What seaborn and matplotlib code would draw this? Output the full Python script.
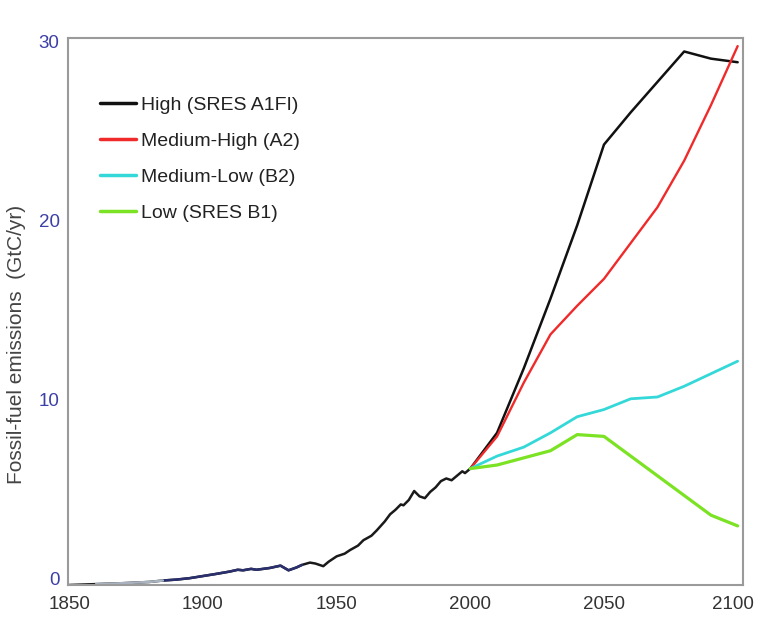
import numpy as np
import pandas as pd
import matplotlib
matplotlib.use("Agg")
import matplotlib.pyplot as plt
import matplotlib.transforms as mtransforms
import seaborn as sns

# -----------------------------
# Data
# -----------------------------
hist_years = [1850, 1860, 1870, 1880, 1885, 1890, 1895, 1900, 1905, 1910, 1913, 1915,
              1918, 1920, 1925, 1929, 1932, 1935, 1937, 1940, 1942, 1945, 1947, 1950,
              1953, 1955, 1958, 1960, 1963, 1965, 1968, 1970, 1972, 1974, 1975, 1977,
              1979, 1981, 1983, 1985, 1987, 1989, 1991, 1993, 1995, 1997, 1998, 2000]
hist_vals = [0.0, 0.05, 0.1, 0.17, 0.25, 0.3, 0.38, 0.5, 0.62, 0.75, 0.85, 0.82,
             0.9, 0.85, 0.95, 1.08, 0.82, 0.98, 1.12, 1.25, 1.2, 1.05, 1.3, 1.6,
             1.75, 1.95, 2.2, 2.5, 2.75, 3.05, 3.55, 3.95, 4.2, 4.5, 4.45, 4.75,
             5.25, 4.95, 4.85, 5.2, 5.45, 5.8, 5.95, 5.85, 6.1, 6.35, 6.25, 6.5]

scen_years = [2000, 2010, 2020, 2030, 2040, 2050, 2060, 2070, 2080, 2090, 2100]
high_a1fi = [6.5, 8.5, 12.1, 16.0, 20.1, 24.6, 26.4, 28.1, 29.8, 29.4, 29.2]
medhigh_a2 = [6.5, 8.3, 11.3, 14.0, 15.6, 17.1, 19.1, 21.1, 23.7, 26.8, 30.1]
medlow_b2 = [6.5, 7.2, 7.7, 8.5, 9.4, 9.8, 10.4, 10.5, 11.1, 11.8, 12.5]
low_b1 = [6.5, 6.7, 7.1, 7.5, 8.4, 8.3, 7.2, 6.1, 5.0, 3.9, 3.3]

labels = ["High (SRES A1FI)", "Medium-High (A2)", "Medium-Low (B2)", "Low (SRES B1)"]
colors = ["#111111", "#f02a2a", "#35d8d8", "#7be324"]
x_ticks = [1850, 1900, 1950, 2000, 2050, 2100]
y_ticks = [0, 10, 20, 30]

sns.set_style("white")
plt.rcParams["font.family"] = ["Liberation Sans", "DejaVu Sans"]

fig = plt.figure(figsize=(7.57, 6.21), dpi=100)
ax = fig.add_axes([0.0898, 0.058, 0.8917, 0.881])

# -----------------------------
# Historical record
# -----------------------------
hist = pd.DataFrame({"year": hist_years, "val": hist_vals})
sns.lineplot(data=hist, x="year", y="val", color="#1a1a1a", lw=1.8, ax=ax)
# navy-ish / grey early sections as in the reference
early = hist[(hist.year >= 1885) & (hist.year <= 1937)]
sns.lineplot(data=early, x="year", y="val", color="#2a2f6e", lw=1.8, ax=ax)
grey = hist[(hist.year >= 1860) & (hist.year <= 1885)]
sns.lineplot(data=grey, x="year", y="val", color="#a9b3bf", lw=1.8, ax=ax)

# -----------------------------
# SRES scenarios
# -----------------------------
series = [high_a1fi, medhigh_a2, medlow_b2, low_b1]
widths = [1.8, 1.7, 2.0, 2.3]
for vals, lab, col, w in zip(series, labels, colors, widths):
    sns.lineplot(x=scen_years, y=vals, color=col, lw=w, label=lab, ax=ax)

ax.set_xlim(1849.5, 2102)
ax.set_ylim(0, 30.56)
ax.set_xticks(x_ticks)
ax.set_yticks(y_ticks)
ax.tick_params(length=0, labelsize=13.5)
ax.tick_params(axis="x", pad=8, labelcolor="#333333")
ax.tick_params(axis="y", pad=6, labelcolor="#3c3fa6")
# y tick labels sit slightly above their positions in the reference
off = mtransforms.ScaledTranslation(0, 6 / 100, fig.dpi_scale_trans)
for t in ax.get_yticklabels():
    t.set_transform(t.get_transform() + off)
# keep the last year label inside the figure
last = ax.get_xticklabels()[-1]
last.set_transform(last.get_transform() + mtransforms.ScaledTranslation(-5 / 100, 0, fig.dpi_scale_trans))

ax.set_xlabel("")
ax.set_ylabel("Fossil-fuel emissions  (GtC/yr)", fontsize=15, color="#444444")
ax.yaxis.set_label_coords(-0.062, 0.44)

for s in ax.spines.values():
    s.set_color("#9a9a9a")
    s.set_linewidth(1.5)

leg = ax.legend(loc="upper left", bbox_to_anchor=(0.021, 0.925), frameon=False,
                fontsize=14, handlelength=1.85, handletextpad=0.26, labelspacing=0.95,
                labelcolor="#222222")
for h in leg.get_lines():
    h.set_linewidth(2.5)

fig.savefig("out.png", dpi=100)
